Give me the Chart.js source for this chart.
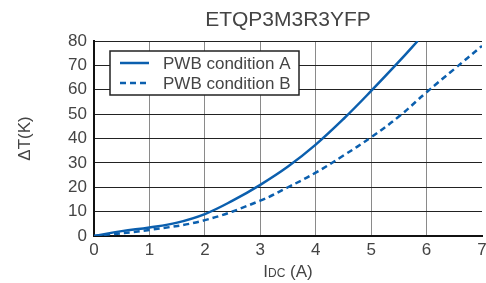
<!DOCTYPE html>
<html>
<head>
<meta charset="utf-8">
<script src="https://cdn.jsdelivr.net/npm/chart.js@4/dist/chart.umd.min.js"></script>
<style>
  html, body { margin: 0; padding: 0; background: #fff; }
  #wrap { width: 486px; height: 283px; position: relative; }
</style>
</head>
<body>
<div id="wrap"><canvas id="chart"></canvas></div>
<script>
const chartTitle = "ETQP3M3R3YFP";
const labelA = "PWB condition A";
const labelB = "PWB condition B";

const currentA = [0, 0.5, 1, 1.5, 2, 2.5, 3, 3.5, 4, 4.5, 5, 5.5, 5.84];
const tempA = [0, 2, 3.5, 5.5, 9, 14.5, 21, 28.5, 37.5, 48, 59.5, 71.5, 80];
const currentB = [0, 1, 2, 3, 3.5, 4, 4.5, 5, 5.5, 6, 6.5, 7];
const tempB = [0, 2.5, 6.5, 14.5, 20, 26, 33, 40.5, 49, 59, 68.5, 78];

const xTicks = [0, 1, 2, 3, 4, 5, 6, 7];
const yTicks = [0, 10, 20, 30, 40, 50, 60, 70, 80];

const BLUE = "#0b5fae";
const TEXT = "#444";
const FONT = "'Liberation Sans', Arial, sans-serif";

const pts = (xs, ys) => xs.map((x, i) => ({ x, y: ys[i] }));

const decor = {
  id: "decor",
  afterDraw(chart) {
    const { ctx, chartArea: a } = chart;
    ctx.save();
    ctx.fillStyle = TEXT;
    ctx.textBaseline = "middle";

    // title
    ctx.font = `21px ${FONT}`;
    ctx.textAlign = "center";
    ctx.fillText(chartTitle, (a.left + a.right) / 2, 20);

    // x axis title: I with DC in smaller caps
    ctx.textAlign = "left";
    const big = `17px ${FONT}`, small = `12px ${FONT}`;
    ctx.font = big;
    const wI = ctx.measureText("I").width;
    const wA = ctx.measureText(" (A)").width;
    ctx.font = small;
    const wDC = ctx.measureText("DC").width;
    let x0 = (a.left + a.right) / 2 - (wI + wDC + wA) / 2;
    const yT = 272;
    ctx.font = big; ctx.fillText("I", x0, yT); x0 += wI;
    ctx.font = small; ctx.fillText("DC", x0, yT + 2); x0 += wDC;
    ctx.font = big; ctx.fillText(" (A)", x0, yT);

    // y axis title
    ctx.translate(25, (a.top + a.bottom) / 2);
    ctx.rotate(-Math.PI / 2);
    ctx.textAlign = "center";
    ctx.font = big;
    ctx.fillText("ΔT(K)", 0, 0);
    ctx.restore();

    // legend box inside plot
    ctx.save();
    const bx = 110, by = 51, bw = 189, bh = 44;
    ctx.fillStyle = "#fff";
    ctx.fillRect(bx, by, bw, bh);
    ctx.strokeStyle = "#222";
    ctx.lineWidth = 1.5;
    ctx.strokeRect(bx, by, bw, bh);
    const rows = [[labelA, []], [labelB, [6, 4]]];
    rows.forEach(([txt, dash], i) => {
      const yy = by + 12 + i * 20;
      ctx.strokeStyle = BLUE;
      ctx.lineWidth = 2.5;
      ctx.setLineDash(dash);
      ctx.beginPath();
      ctx.moveTo(120, yy);
      ctx.lineTo(149, yy);
      ctx.stroke();
      ctx.setLineDash([]);
      ctx.fillStyle = TEXT;
      ctx.font = `17px ${FONT}`;
      ctx.textAlign = "left";
      ctx.textBaseline = "middle";
      ctx.fillText(txt, 163, yy + 1);
    });
    ctx.restore();
  },
};

new Chart(document.getElementById("chart"), {
  type: "line",
  data: {
    datasets: [
      { label: labelA, data: pts(currentA, tempA), borderColor: BLUE, borderWidth: 2.5,
        pointRadius: 0, tension: 0.4, fill: false },
      { label: labelB, data: pts(currentB, tempB), borderColor: BLUE, borderWidth: 2.5,
        borderDash: [6, 4], pointRadius: 0, tension: 0.4, fill: false },
    ],
  },
  options: {
    responsive: true,
    maintainAspectRatio: false,
    animation: false,
    events: [],
    layout: { padding: { left: 0, top: 41, right: 4, bottom: 0 } },
    plugins: { legend: { display: false }, tooltip: { enabled: false }, title: { display: false } },
    scales: {
      x: {
        type: "linear", min: 0, max: 7,
        afterBuildTicks: (s) => { s.ticks = xTicks.map((v) => ({ value: v })); },
        afterFit: (s) => { s.height = 47; s.paddingLeft = 0; s.paddingRight = 0; },
        ticks: { color: TEXT, font: { family: FONT, size: 17 }, padding: 4 },
        grid: {
          drawTicks: false,
          color: (c) => (c.tick && c.tick.value === 7 ? "rgba(0,0,0,0)" : "#8a8a8a"),
          lineWidth: 1,
        },
        border: { color: "#111", width: 2 },
      },
      y: {
        min: 0, max: 80,
        afterBuildTicks: (s) => { s.ticks = yTicks.map((v) => ({ value: v })); },
        afterFit: (s) => { s.width = 94; s.paddingTop = 0; s.paddingBottom = 0; },
        ticks: { color: TEXT, font: { family: FONT, size: 17 }, padding: 7 },
        grid: { drawTicks: false, color: "#222", lineWidth: 1 },
        border: { color: "#111", width: 2 },
      },
    },
  },
  plugins: [decor],
});
</script>
</body>
</html>
